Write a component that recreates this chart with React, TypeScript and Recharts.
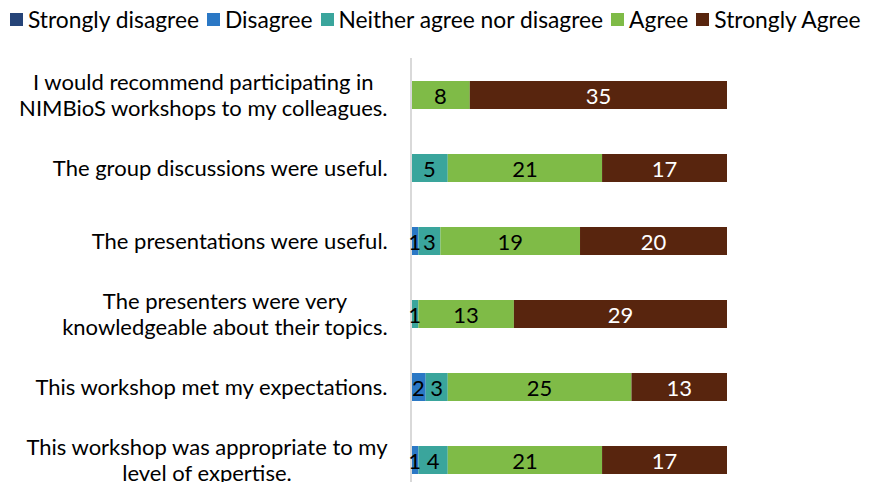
import React from 'react';
import { BarChart, Bar, XAxis, YAxis, LabelList } from 'recharts';

const categories = [
  'I would recommend participating in|NIMBioS workshops to my colleagues.',
  'The group discussions were useful.',
  'The presentations were useful.',
  'The presenters were very|knowledgeable about their topics.',
  'This workshop met my expectations.',
  'This workshop was appropriate to my|level of expertise.',
];
const stronglyDisagree = [0, 0, 0, 0, 0, 0];
const disagree = [0, 0, 1, 0, 2, 1];
const neither = [0, 5, 3, 1, 3, 4];
const agree = [8, 21, 19, 13, 25, 21];
const stronglyAgree = [35, 17, 20, 29, 13, 17];

const seriesNames = ['Strongly disagree', 'Disagree', 'Neither agree nor disagree', 'Agree', 'Strongly Agree'];
const seriesKeys = ['sd', 'd', 'n', 'a', 'sa'];
const colors = ['#264478', '#2B78C5', '#3AA59C', '#7FBB47', '#58250E'];
const labelColors = ['#000', '#000', '#000', '#000', '#fff'];

const data = categories.map((c, i) => ({
  name: c,
  sd: stronglyDisagree[i],
  d: disagree[i],
  n: neither[i],
  a: agree[i],
  sa: stronglyAgree[i],
}));

const FONT = 'Lato, "Liberation Sans", sans-serif';
const FS = 22;

let ctx: CanvasRenderingContext2D | null = null;
function measure(t: string) {
  if (!ctx) {
    const c = document.createElement('canvas');
    ctx = c.getContext('2d');
  }
  if (!ctx) return t.length * 10;
  ctx.font = `${FS}px ${FONT}`;
  return ctx.measureText(t).width;
}

const Tick = (props: any) => {
  const { y, payload } = props;
  const lines = String(payload.value).split('|');
  const w = Math.max(...lines.map(measure));
  const cx = 388 - w / 2;
  const lh = 26;
  const y0 = y - ((lines.length - 1) * lh) / 2;
  return (
    <g>
      {lines.map((l, i) => (
        <text key={i} x={cx} y={y0 + i * lh} textAnchor="middle" dominantBaseline="central"
          fontFamily={FONT} fontSize={FS} fill="#000">{l}</text>
      ))}
    </g>
  );
};

const makeLabel = (color: string) => (props: any) => {
  const { x, y, width, height, value } = props;
  if (!value) return null;
  return (
    <text x={x + width / 2} y={y + height / 2} textAnchor="middle" dominantBaseline="central"
      fontFamily={FONT} fontSize={FS} fill={color}>{value}</text>
  );
};

const LegendRow = () => (
  <div style={{ display: 'flex', alignItems: 'center', position: 'absolute', left: 10, top: 5, fontFamily: FONT, fontSize: 22.8, color: '#000', whiteSpace: 'nowrap' }}>
    {seriesNames.map((n, i) => (
      <div key={n} style={{ display: 'flex', alignItems: 'center', marginRight: 8 }}>
        <div style={{ width: 13, height: 13, background: colors[i], marginRight: 5 }} />
        <span>{n}</span>
      </div>
    ))}
  </div>
);

export default function App() {
  return (
    <div style={{ margin: -8, position: 'relative', width: 877, height: 490, overflow: 'hidden', background: '#fff' }}>
      <LegendRow />
      <BarChart width={877} height={500} data={data} layout="vertical"
        margin={{ top: 58, right: 150, bottom: 4, left: 0 }} barSize={28}>
        <XAxis type="number" domain={[0, 43]} hide />
        <YAxis type="category" dataKey="name" width={411} tick={<Tick />} tickLine={false}
          axisLine={{ stroke: '#d9d9d9', strokeWidth: 2 }} interval={0} />
        {seriesKeys.map((k, i) => (
          <Bar key={k} dataKey={k} stackId="s" fill={colors[i]} isAnimationActive={false}>
            <LabelList dataKey={k} content={makeLabel(labelColors[i])} />
          </Bar>
        ))}
      </BarChart>
    </div>
  );
}
